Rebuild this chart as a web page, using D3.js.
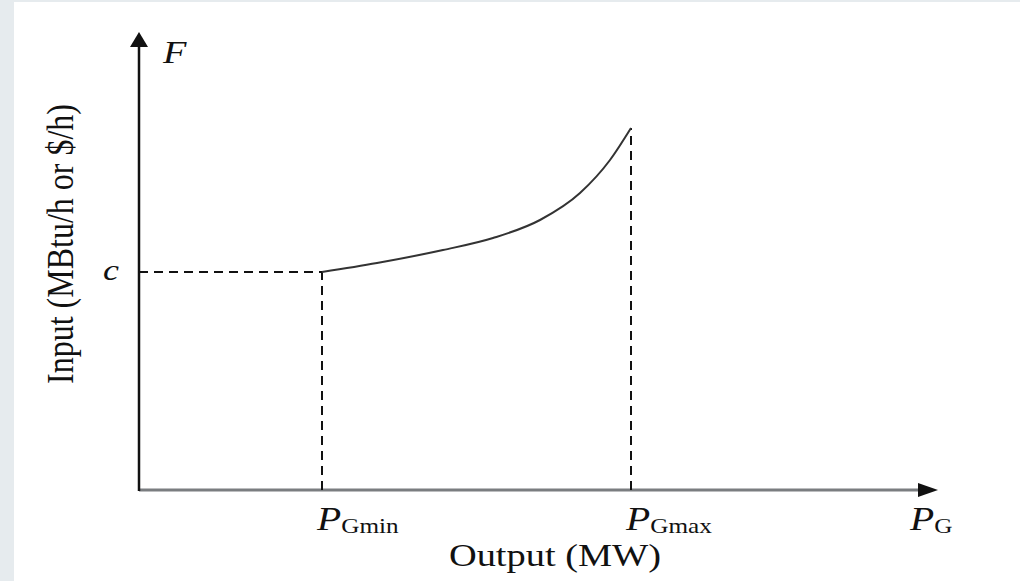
<!DOCTYPE html>
<html>
    <head>
        <meta charset="utf-8" />
        <title>Input-output curve</title>
        <script src="https://d3js.org/d3.v7.min.js"></script>
        <style>
            html,
            body {
                margin: 0;
                padding: 0;
                background: #e6ebee;
            }
            svg {
                display: block;
            }
            text {
                font-family: "Liberation Serif", "DejaVu Serif", serif;
                fill: #111;
            }
        </style>
    </head>
    <body>
        <svg id="chart" width="1020" height="581"></svg>

        <script>
            // curve values (arbitrary units)
            const outputMW = [183, 238, 304, 354, 401, 441, 471, 492];
            const inputCost = [218, 227, 240, 252, 270, 297, 330, 362];
            const pGmin = 183;
            const pGmax = 492;
            const cLevel = 218;
            const xMax = 798;
            const yMax = 458;
            const xTicks = [
                { value: pGmin, sub: "Gmin" },
                { value: pGmax, sub: "Gmax" },
                { value: xMax - 22, sub: "G" },
            ];

            const svg = d3.select("#chart");

            // white panel
            svg.append("rect")
                .attr("x", 14)
                .attr("y", 2)
                .attr("width", 1006)
                .attr("height", 579)
                .attr("fill", "#fff");

            const x = d3.scaleLinear().domain([0, xMax]).range([139, 937]);
            const y = d3.scaleLinear().domain([0, yMax]).range([490, 32]);

            // x axis (greyish) with arrow
            svg.append("line")
                .attr("x1", x(0))
                .attr("x2", x(xMax) - 15)
                .attr("y1", y(0))
                .attr("y2", y(0))
                .attr("stroke", "#7a7d80")
                .attr("stroke-width", 3);
            svg.append("path")
                .attr(
                    "d",
                    `M${x(xMax) + 1},${y(0)} L${x(xMax) - 19},${y(0) - 7} L${x(xMax) - 19},${y(0) + 7} Z`,
                )
                .attr("fill", "#111");

            // y axis with arrow
            svg.append("line")
                .attr("x1", x(0))
                .attr("x2", x(0))
                .attr("y1", y(0) + 1)
                .attr("y2", y(yMax) + 12)
                .attr("stroke", "#111")
                .attr("stroke-width", 2.5);
            svg.append("path")
                .attr(
                    "d",
                    `M${x(0)},${y(yMax)} L${x(0) - 9},${y(yMax) + 15} L${x(0) + 9},${y(yMax) + 15} Z`,
                )
                .attr("fill", "#111");

            // dashed guide lines
            const guides = [
                [pGmin, 0, pGmin, cLevel],
                [0, cLevel, pGmin, cLevel],
                [pGmax, 0, pGmax, inputCost[inputCost.length - 1]],
            ];
            svg.selectAll(".guide")
                .data(guides)
                .enter()
                .append("line")
                .attr("class", "guide")
                .attr("x1", (d) => x(d[0]))
                .attr("y1", (d) => y(d[1]))
                .attr("x2", (d) => x(d[2]))
                .attr("y2", (d) => y(d[3]))
                .attr("stroke", "#111")
                .attr("stroke-width", 2)
                .attr("stroke-dasharray", "9 6");

            // input-output curve
            const line = d3
                .line()
                .x((d, i) => x(outputMW[i]))
                .y((d) => y(d))
                .curve(d3.curveMonotoneX);
            svg.append("path")
                .attr("d", line(inputCost))
                .attr("fill", "none")
                .attr("stroke", "#333")
                .attr("stroke-width", 2);

            // the original picture is stretched sideways
            const sx = 1.2;

            // axis name F
            svg.append("text")
                .attr("transform", `translate(${x(0) + 24},63) scale(${sx},1)`)
                .attr("font-size", 32)
                .attr("font-style", "italic")
                .text("F");

            // c on the y axis
            svg.append("text")
                .attr("transform", `translate(${x(0) - 36},${y(cLevel) + 8}) scale(${sx},1)`)
                .attr("font-size", 30)
                .attr("font-style", "italic")
                .text("c");

            // P labels on the x axis
            const ticks = svg
                .selectAll(".ptick")
                .data(xTicks)
                .enter()
                .append("text")
                .attr("class", "ptick")
                .attr(
                    "transform",
                    (d) => `translate(${x(d.value) - 5},530) scale(${sx},1)`,
                );
            ticks.append("tspan")
                .attr("font-size", 33)
                .attr("font-style", "italic")
                .text("P");
            ticks.append("tspan")
                .attr("font-size", 21)
                .attr("dy", 3)
                .text((d) => d.sub);

            // axis titles
            svg.append("text")
                .attr("transform", `translate(555,566) scale(${sx},1)`)
                .attr("font-size", 32)
                .attr("text-anchor", "middle")
                .text("Output (MW)");

            svg.append("text")
                .attr("transform", `translate(73,244) scale(${sx},1) rotate(-90)`)
                .attr("font-size", 32)
                .attr("text-anchor", "middle")
                .text("Input (MBtu/h or $/h)");
        </script>
    </body>
</html>
